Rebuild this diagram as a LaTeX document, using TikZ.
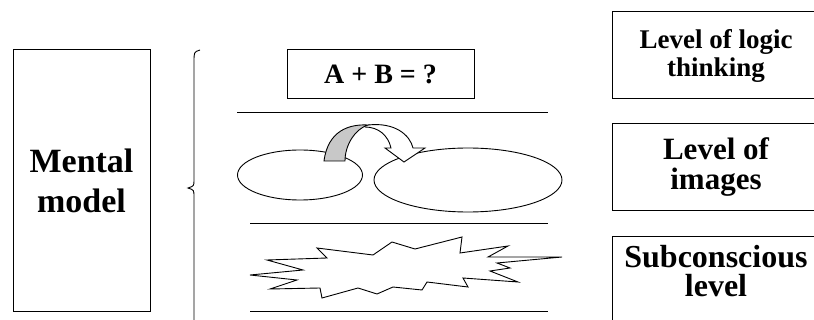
\documentclass[tikz,border=0pt]{standalone}
\usepackage{fontspec}
\setmainfont{Liberation Serif}
\usepackage{tikz}
\usetikzlibrary{arrows.meta,positioning,shapes.geometric}
\definecolor{ArrowGray}{RGB}{200,200,200}
\tikzset{
  levelbox/.style={draw,line width=1pt,align=center,font=\bfseries,
    minimum width=208pt,minimum height=87pt,inner sep=0pt},
  oval/.style={draw,ellipse,line width=0.9pt,inner sep=0pt},
  rule/.style={line width=1pt}
}
\begin{document}
\begin{tikzpicture}[x=1pt,y=-1pt,>=Latex]
  \useasboundingbox (0,0) rectangle (814,320);
  \node[draw,line width=1pt,minimum width=137pt,minimum height=262pt,
    align=center,font=\fontsize{34}{40}\selectfont\bfseries] (mental) at (81.5,181)
    {Mental\\model};
  \draw[line width=0.9pt] (200,50) .. controls (194,52) .. (194,62) -- (194,180)
    .. controls (194,186) .. (188,188) .. controls (194,190) .. (194,197)
    -- (194,318) .. controls (194,322) .. (196,326);
  \node[draw,line width=1pt,minimum width=187pt,minimum height=49pt,
    font=\fontsize{28}{30}\selectfont\bfseries] (task) at (380.5,74.5) {A + B = ?};
  \draw[rule] (237,113) -- (548,113);
  \draw[rule] (250,224) -- (548,224);
  \draw[rule] (250,312) -- (548,312);
  \node[oval,minimum width=125pt,minimum height=50pt] (imgA) at (300,175) {};
  \node[oval,minimum width=188pt,minimum height=64pt] (imgB) at (468,180) {};
  % curved arrow between the images
  \fill[white] (368,125) .. controls (395,122) and (410,135) .. (413,148) -- (425,148)
    -- (404,162) -- (385,148) -- (391,148) .. controls (388,135) and (378,127) .. (365,127) -- cycle;
  \draw[line width=0.9pt] (368,125) .. controls (395,122) and (410,135) .. (413,148) -- (425,148)
    -- (404,162) -- (385,148) -- (391,148) .. controls (388,135) and (378,127) .. (365,127);
  \draw[line width=0.9pt,fill=ArrowGray] (324,161) .. controls (328,130) and (350,124) .. (368,125)
    .. controls (355,129) and (345,145) .. (345,161) -- cycle;
  \draw[line width=0.9pt,line join=miter] (250,275) -- (303,270) -- (267,260) -- (327,258)
    -- (317,248) -- (373,255) -- (392,242) -- (415,249) -- (462,237) -- (460,253)
    -- (508,246) -- (488,257) -- (562,257) -- (497,263) -- (510,268) -- (490,271)
    -- (518,282) -- (463,278) -- (468,287) -- (427,282) -- (422,290) -- (393,287)
    -- (377,294) -- (358,288) -- (322,298) -- (320,288) -- (270,289) -- (297,280) -- cycle;
  \node[levelbox,font=\fontsize{27}{28}\selectfont\bfseries] (logic) at (716,55.5)
    {Level of logic\\thinking};
  \node[levelbox,font=\fontsize{31}{30}\selectfont\bfseries] (images) at (716,167)
    {Level of\\images};
  \node[levelbox,font=\fontsize{32}{29}\selectfont\bfseries,text depth=20pt] (subcon) at (716,280.5)
    {Subconscious\\level};
\end{tikzpicture}
\end{document}
